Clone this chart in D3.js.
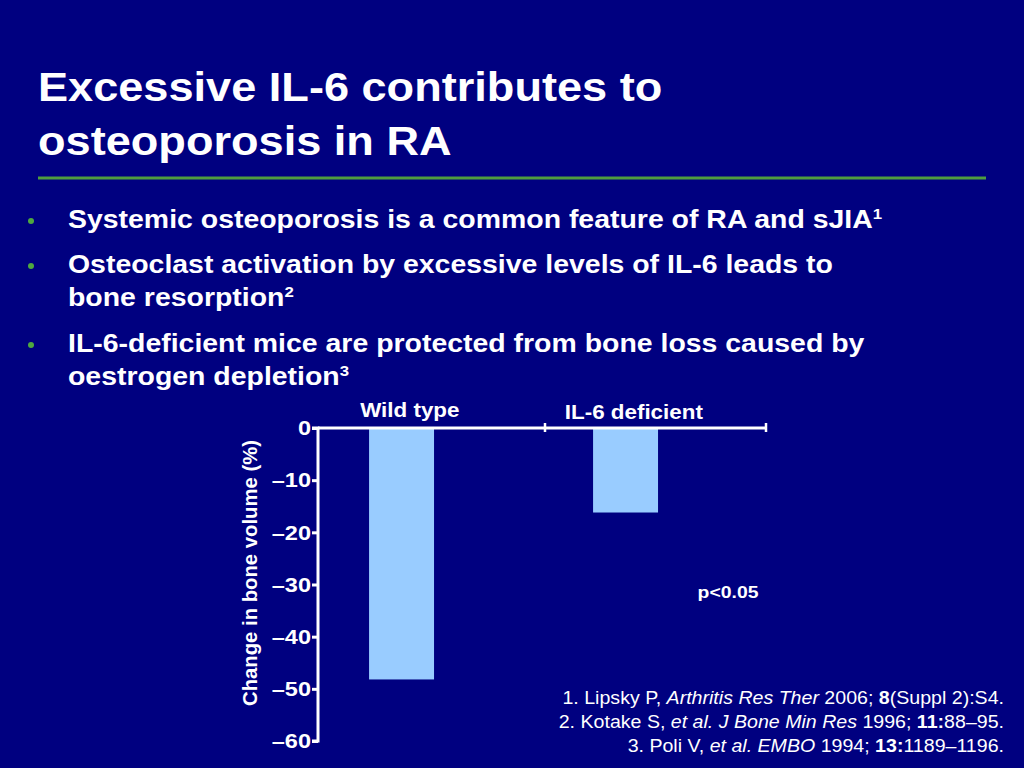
<!DOCTYPE html>
<html>
<head>
<meta charset="utf-8">
<script src="https://cdn.jsdelivr.net/npm/d3@7"></script>
<style>
  body { margin: 0; background: #000080; }
  svg { display: block; font-family: "Liberation Sans", Arial, sans-serif; }
</style>
</head>
<body>
<div id="chart"></div>
<script>
// chart data
var groups = ["Wild type", "IL-6 deficient"];
var changes = [-48.2, -16.2];
var yTicks = [0, -10, -20, -30, -40, -50, -60];

var bullets = [
  [["Systemic osteoporosis is a common feature of RA and sJIA", "1"]],
  [["Osteoclast activation by excessive levels of IL-6 leads to", ""], ["bone resorption", "2"]],
  [["IL-6-deficient mice are protected from bone loss caused by", ""], ["oestrogen depletion", "3"]]
];

var refs = [
  [["1. Lipsky P, ", ""], ["Arthritis Res Ther", "i"], [" 2006; ", ""], ["8", "b"], ["(Suppl 2):S4.", ""]],
  [["2. Kotake S, ", ""], ["et al. J Bone Min Res", "i"], [" 1996; ", ""], ["11:", "b"], ["88\u201395.", ""]],
  [["3. Poli V, ", ""], ["et al. EMBO", "i"], [" 1994; ", ""], ["13:", "b"], ["1189\u20131196.", ""]]
];

var svgWidth = 1024;
var svgHeight = 768;
var sx = 1.12; // the slide text is a bit wider than Arial

var svg = d3.select("#chart")
  .append("svg")
  .attr("width", svgWidth)
  .attr("height", svgHeight);

svg.append("rect")
  .attr("width", svgWidth)
  .attr("height", svgHeight)
  .attr("fill", "#000080");

// text placed at x,y and stretched horizontally
function addText(x, y, size) {
  return svg.append("text")
    .attr("transform", `translate(${x}, ${y}) scale(${sx}, 1)`)
    .attr("fill", "white")
    .attr("font-size", size);
}

// title
addText(38, 101, 40.3).attr("font-weight", "bold").text("Excessive IL-6 contributes to");
addText(38, 155, 40.3).attr("font-weight", "bold").text("osteoporosis in RA");

svg.append("line")
  .attr("x1", 38).attr("x2", 986)
  .attr("y1", 178).attr("y2", 178)
  .attr("stroke", "#4f9d3f")
  .attr("stroke-width", 3);

// bullets
var bulletY = [228, 273, 352];
bullets.forEach(function(b, i) {
  svg.append("circle")
    .attr("cx", 31).attr("cy", bulletY[i] - 7)
    .attr("r", 3)
    .attr("fill", "#4fa83f");
  b.forEach(function(line, j) {
    var t = addText(68, bulletY[i] + j * 33, 25.4).attr("font-weight", "bold");
    t.append("tspan").text(line[0]);
    if (line[1]) {
      t.append("tspan")
        .attr("dy", -9)
        .attr("font-size", 15)
        .text(line[1]);
    }
  });
});

// chart area
var chartLeft = 318, chartRight = 766;
var chartTop = 428, chartBottom = 741;

var xScale = d3.scaleBand()
  .domain(groups)
  .range([chartLeft, chartRight]);

var yScale = d3.scaleLinear()
  .domain([0, -60])
  .range([chartTop, chartBottom]);

var bw = xScale.bandwidth();

// bars
svg.selectAll(".bar")
  .data(groups)
  .enter()
  .append("rect")
  .attr("class", "bar")
  .attr("x", d => xScale(d) + bw * 0.228)
  .attr("y", yScale(0))
  .attr("width", bw * 0.29)
  .attr("height", (d, i) => yScale(changes[i]) - yScale(0))
  .attr("fill", "#99ccff");

// y axis
var leftAxis = d3.axisLeft(yScale)
  .tickValues(yTicks)
  .tickSize(6)
  .tickPadding(2)
  .tickFormat(d => d === 0 ? "0" : "\u2013" + Math.abs(d));

var yAxis = svg.append("g")
  .attr("transform", `translate(${chartLeft}, 0)`)
  .call(leftAxis);

yAxis.select(".domain").attr("stroke", "white").attr("stroke-width", 3)
  .attr("d", `M-6,${chartTop}H0V${chartBottom}H-6`);
yAxis.selectAll(".tick line").attr("stroke", "white").attr("stroke-width", 3);
yAxis.selectAll(".tick text")
  .attr("x", -7 / sx)
  .attr("transform", `scale(${sx}, 1)`)
  .attr("fill", "white")
  .attr("font-size", 21)
  .attr("font-weight", "bold")
  .attr("font-family", "Liberation Sans, Arial, sans-serif");

// x axis along zero line
var topAxis = d3.axisTop(xScale).tickSize(0).tickFormat("");
var xAxis = svg.append("g")
  .attr("transform", `translate(0, ${chartTop})`)
  .call(topAxis);
xAxis.select(".domain").attr("stroke", "white").attr("stroke-width", 3)
  .attr("d", `M${chartLeft},0H${chartRight}`);

// category separator ticks
var edges = [xScale(groups[1]) + 3, chartRight];
svg.selectAll(".xtick")
  .data(edges)
  .enter()
  .append("line")
  .attr("x1", d => d).attr("x2", d => d)
  .attr("y1", chartTop - 5).attr("y2", chartTop + 4)
  .attr("stroke", "white")
  .attr("stroke-width", 2.5);

// category labels
var catY = [417, 419];
groups.forEach(function(g, i) {
  addText(xScale(g) + bw * 0.41, catY[i], 20)
    .attr("text-anchor", "middle")
    .attr("font-weight", "bold")
    .text(g);
});

// y label
svg.append("text")
  .attr("transform", `translate(257, 573) rotate(-90)`)
  .attr("text-anchor", "middle")
  .attr("fill", "white")
  .attr("font-weight", "bold")
  .attr("font-size", 20.3)
  .text("Change in bone volume (%)");

addText(728, 598, 17.3)
  .attr("text-anchor", "middle")
  .attr("font-weight", "bold")
  .text("p<0.05");

// references
refs.forEach(function(r, i) {
  var t = addText(1004, 704 + i * 24, 17.5).attr("text-anchor", "end");
  r.forEach(function(p) {
    var s = t.append("tspan").text(p[0]);
    if (p[1] === "i") s.attr("font-style", "italic");
    if (p[1] === "b") s.attr("font-weight", "bold");
  });
});
</script>
</body>
</html>
